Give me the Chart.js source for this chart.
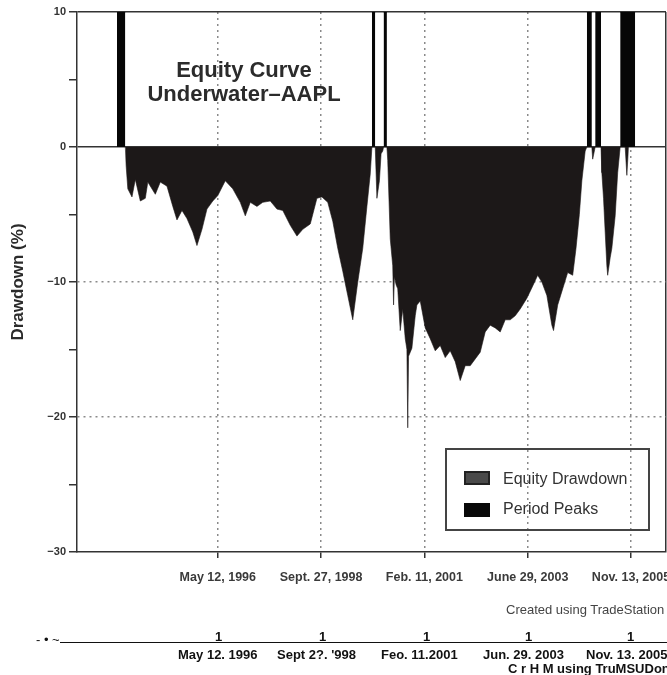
<!DOCTYPE html>
<html>
<head>
<meta charset="utf-8">
<script src="https://cdn.jsdelivr.net/npm/chart.js@4.4.0/dist/chart.umd.min.js"></script>
<style>
  html,body{margin:0;padding:0;background:#fff;}
  #wrap{position:relative;width:667px;height:675px;overflow:hidden;font-family:"Liberation Sans",Arial,sans-serif;}
  #chart{position:absolute;left:0;top:0;}
  .title{position:absolute;left:144px;top:58px;width:200px;text-align:center;font-weight:bold;font-size:22px;line-height:24px;color:#2b2b2b;}
  .legend{position:absolute;left:445px;top:448px;width:201px;height:79px;border:2px solid #444;}
  .sw{position:absolute;left:17px;width:22px;height:10px;}
  .lt{position:absolute;left:56px;font-size:16px;color:#333;white-space:nowrap;}
  .created{position:absolute;left:506px;top:602px;font-size:13px;color:#444;white-space:nowrap;}
  .ocr{position:absolute;font-weight:bold;font-size:13px;color:#111;white-space:nowrap;}
  .rule{position:absolute;left:60px;top:642px;width:607px;height:0;border-top:1.5px solid #111;}
</style>
</head>
<body>
<div id="wrap">
  <canvas id="chart" width="667" height="675"></canvas>
  <div class="title">Equity Curve<br>Underwater–AAPL</div>
  <div class="legend">
    <div class="sw" style="top:21px;background:#4a4a4a;border:2px solid #222;"></div>
    <div class="lt" style="top:20px;">Equity Drawdown</div>
    <div class="sw" style="top:53px;background:#080808;border:2px solid #080808;"></div>
    <div class="lt" style="top:50px;">Period Peaks</div>
  </div>
  <div class="created">Created using TradeStation</div>
  <div class="ocr" style="left:36px;top:632px;font-weight:normal;">- • ~</div>
  <div class="rule"></div>
  <div class="ocr" style="left:215px;top:629px;">1</div>
  <div class="ocr" style="left:319px;top:629px;">1</div>
  <div class="ocr" style="left:423px;top:629px;">1</div>
  <div class="ocr" style="left:525px;top:629px;">1</div>
  <div class="ocr" style="left:627px;top:629px;">1</div>
  <div class="ocr" style="left:178px;top:647px;">May 12. 1996</div>
  <div class="ocr" style="left:277px;top:647px;">Sept 2?. '998</div>
  <div class="ocr" style="left:381px;top:647px;">Feo. 11.2001</div>
  <div class="ocr" style="left:483px;top:647px;">Jun. 29. 2003</div>
  <div class="ocr" style="left:586px;top:647px;">Nov. 13. 2005</div>
  <div class="ocr" style="left:508px;top:661px;">C r H M using TruMSUDon</div>
</div>
<script>
// weekly bars, x axis counted in weeks from the left edge of the plot
const weekMax = 707;
const tickWeeks = [169, 293, 417, 541, 665];
const tickLabels = ['May 12, 1996', 'Sept. 27, 1998', 'Feb. 11, 2001', 'June 29, 2003', 'Nov. 13, 2005'];
const yTicks = [10, 5, 0, -5, -10, -15, -20, -25, -30];

// equity drawdown (%)
const ddWeeks = [
  58, 59, 61, 66, 70, 76, 82, 85, 94, 100, 108, 115, 120, 126, 132, 139, 144, 150, 156, 163,
  169, 178, 187, 196, 202, 208, 216, 223, 232, 240, 247, 256, 264, 271, 280, 288, 294, 301, 307, 313,
  319, 325, 331, 337, 343, 348, 352, 354,
  358, 360, 363, 365, 367, 368,
  372, 373, 376, 379, 380, 381, 383, 385, 388, 391, 394, 396, 397, 398, 402, 406, 408, 412, 418, 424, 430,
  436, 442, 448, 454, 460, 466, 472, 478, 484, 490, 496, 502, 508, 514, 520, 526, 532, 540, 547, 553,
  558, 564, 570, 572, 577, 583, 589, 595, 599, 603, 606, 610, 612,
  618, 619, 621, 622,
  629, 630, 632, 634, 636, 637, 640, 642, 646, 649, 652,
  658, 660, 662
];
const ddValues = [
  0, -1.4, -3.1, -3.7, -2.4, -4.0, -3.8, -2.6, -3.5, -2.6, -2.9, -4.4, -5.4, -4.7, -5.3, -6.3, -7.3, -6.1, -4.6, -4.0,
  -3.6, -2.5, -3.1, -4.1, -5.1, -4.1, -4.4, -4.1, -4.0, -4.6, -4.7, -5.8, -6.6, -6.1, -5.7, -3.8, -3.7, -4.1, -5.5, -7.5,
  -9.2, -11.0, -12.8, -10.0, -7.5, -4.4, -2.0, 0,
  0, -3.8, -2.5, -0.5, -0.3, 0,
  0, -1.0, -6.8, -8.8, -11.7, -9.6, -10.2, -10.5, -13.6, -12.0, -14.2, -15.0, -20.8, -15.5, -14.9, -12.5, -11.7, -11.4, -13.4, -14.2, -15.1,
  -14.7, -15.6, -15.1, -15.9, -17.3, -16.2, -16.2, -15.7, -15.2, -13.7, -13.2, -13.4, -13.7, -12.8, -12.8, -12.5, -12.0, -11.2, -10.3, -9.5,
  -10.0, -11.0, -13.2, -13.6, -11.7, -10.5, -9.3, -9.5, -7.5, -5.0, -2.5, -0.3, 0,
  0, -0.9, -0.3, 0,
  0, -1.9, -3.8, -6.3, -8.8, -9.5, -8.2, -7.5, -5.1, -1.9, 0,
  0, -2.1, 0
];

// period peaks: new equity highs, drawn from 0 up to the top of the plot
const peakStart = [48, 354, 368, 612, 622, 652];
const peakEnd = [58, 358, 372, 618, 629, 670];
const peakTop = 10;

const ddData = ddWeeks.map((w, i) => ({x: w, y: ddValues[i]}));
const peakData = [];
peakStart.forEach((s, i) => {
  peakData.push({x: s, y: peakTop}, {x: peakEnd[i], y: peakTop}, {x: peakEnd[i], y: null});
});

const axisFont = {family: '"Liberation Sans", Arial, sans-serif', size: 12.5, weight: 'bold'};
const tv = c => (c.tick ? c.tick.value : undefined);

new Chart(document.getElementById('chart'), {
  type: 'line',
  data: {
    datasets: [
      {
        label: 'Equity Drawdown', data: ddData, fill: 'origin',
        backgroundColor: '#1c1818', borderColor: '#1c1818', borderWidth: 0.6,
        pointRadius: 0, tension: 0
      },
      {
        label: 'Period Peaks', data: peakData, fill: 'origin', spanGaps: false,
        backgroundColor: '#060606', borderColor: '#060606', borderWidth: 0.6,
        pointRadius: 0, tension: 0
      }
    ]
  },
  options: {
    responsive: false,
    animation: false,
    layout: {padding: {top: 12, right: 1, left: 0, bottom: 0}},
    plugins: {legend: {display: false}, tooltip: {enabled: false}},
    scales: {
      x: {
        type: 'linear', min: 0, max: weekMax,
        afterBuildTicks(s) { s.ticks = tickWeeks.concat([weekMax]).map(v => ({value: v})); },
        afterFit(s) { s.height = 123; s.paddingLeft = 0; s.paddingRight = 0; },
        ticks: {
          autoSkip: false, maxRotation: 0, padding: 12, color: '#3a3a3a', font: axisFont,
          callback: (v, i) => tickLabels[i] || ''
        },
        grid: {
          color: c => tv(c) === weekMax ? '#333' : '#8a8a8a',
          lineWidth: 1.5, tickLength: 6,
          tickColor: c => tv(c) === weekMax ? 'rgba(0,0,0,0)' : '#333'
        },
        border: {color: '#333', width: 1.5, dash: c => tv(c) === weekMax ? [] : [2, 4]}
      },
      y: {
        min: -30, max: 10,
        afterBuildTicks(s) { s.ticks = yTicks.map(v => ({value: v})); },
        afterFit(s) { s.width = 77; },
        ticks: {
          padding: 3, color: '#333', font: {family: '"Liberation Sans", Arial, sans-serif', size: 11, weight: 'bold'},
          callback: v => v % 10 === 0 ? (v < 0 ? '\u2212' + Math.abs(v) : String(v)) : ''
        },
        grid: {
          color: c => {
            const v = tv(c);
            if (v === 0 || v === 10) return '#333';
            if (v === -10 || v === -20) return '#8a8a8a';
            return 'rgba(0,0,0,0)';
          },
          lineWidth: 1.5, tickLength: 8, tickColor: '#333'
        },
        border: {color: '#333', width: 1.5, dash: c => (tv(c) === -10 || tv(c) === -20) ? [2, 4] : []},
        title: {
          display: true, text: 'Drawdown (%)', color: '#2b2b2b', padding: {top: 8, bottom: 0},
          font: {family: '"Liberation Sans", Arial, sans-serif', size: 17, weight: 'bold'}
        }
      }
    }
  }
});
</script>
</body>
</html>
